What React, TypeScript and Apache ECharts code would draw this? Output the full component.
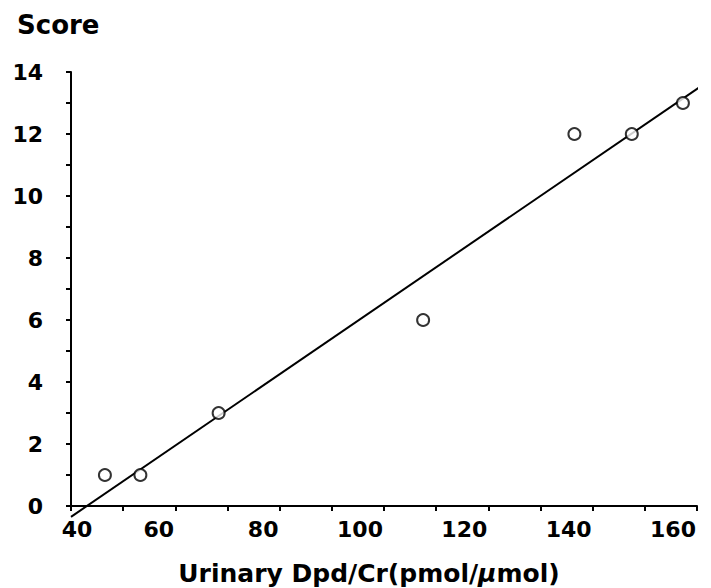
import React, { useEffect, useRef } from "react";
import * as echarts from "echarts";

const dpdValues = [46.5, 53.3, 68.3, 107.5, 136.5, 147.5, 157.3];
const scoreValues = [1, 1, 3, 6, 12, 12, 13];
const fitLineX = [40, 160.4];
const fitLineY = [-0.35, 13.5];
const xTickLabels = [40, 60, 80, 100, 120, 140, 160];
const yTickLabels = [0, 2, 4, 6, 8, 10, 12, 14];

const FONT = "DejaVu Sans";

export default function App() {
  const ref = useRef<HTMLDivElement>(null);
  useEffect(() => {
    if (!ref.current) return;
    const chart = echarts.init(ref.current, null, { renderer: "svg" });
    chart.setOption({
      animation: false,
      backgroundColor: "#ffffff",
      title: {
        text: "Score",
        left: 12,
        top: 7,
        textStyle: { fontFamily: FONT, fontWeight: "bold", fontSize: 26, color: "#000" },
      },
      grid: { left: 71, right: 14, top: 72, bottom: 82, outerBoundsMode: "none", containLabel: false },
      xAxis: {
        type: "value",
        min: 40,
        max: 160,
        interval: 10,
        splitLine: { show: false },
        axisLine: { onZero: false, lineStyle: { color: "#000", width: 2 } },
        axisTick: { show: true, length: 5, lineStyle: { color: "#000", width: 2 } },
        axisLabel: {
          margin: 12,
          color: "#000",
          fontFamily: FONT,
          fontWeight: "bold",
          fontSize: 22,
          formatter: (v: number) => {
            if (!xTickLabels.includes(v)) return "";
            if (v === 40) return "{l|" + v + "}";
            return (v >= 100 ? "{r3|" : "{r2|") + v + "}";
          },
          rich: {
            l: { fontFamily: FONT, fontWeight: "bold", fontSize: 22, color: "#000", padding: [0, 0, 0, 12] },
            r2: { fontFamily: FONT, fontWeight: "bold", fontSize: 22, color: "#000", padding: [0, 33, 0, 0] },
            r3: { fontFamily: FONT, fontWeight: "bold", fontSize: 22, color: "#000", padding: [0, 48, 0, 0] },
          },
        },
        name: "Urinary Dpd/Cr(pmol/{i|μ}mol)",
        nameLocation: "middle",
        nameGap: 55,
        nameTextStyle: {
          color: "#000",
          fontFamily: FONT,
          fontWeight: "bold",
          fontSize: 25,
          padding: [0, 30, 0, 0],
          rich: {
            i: { fontFamily: FONT, fontWeight: "bold", fontStyle: "italic", fontSize: 25, color: "#000" },
          },
        },
      },
      yAxis: {
        type: "value",
        min: 0,
        max: 14,
        interval: 1,
        splitLine: { show: false },
        axisLine: { onZero: false, lineStyle: { color: "#000", width: 2 } },
        axisTick: { show: true, length: 5, lineStyle: { color: "#000", width: 2 } },
        axisLabel: {
          margin: 28,
          color: "#000",
          fontFamily: FONT,
          fontWeight: "bold",
          fontSize: 22,
          padding: [6, 0, 0, 0],
          formatter: (v: number) => (yTickLabels.includes(v) ? String(v) : ""),
        },
      },
      series: [
        {
          type: "line",
          data: fitLineX.map((x, i) => [x, fitLineY[i]]),
          showSymbol: false,
          clip: false,
          lineStyle: { color: "#000", width: 2 },
          z: 2,
        },
        {
          type: "scatter",
          data: dpdValues.map((x, i) => [x, scoreValues[i]]),
          symbol: "circle",
          symbolSize: 12,
          itemStyle: { color: "#fff", borderColor: "#000", borderWidth: 2 },
          z: 3,
        },
      ],
    });
    return () => chart.dispose();
  }, []);
  return (
    <div
      ref={ref}
      style={{ position: "absolute", left: 0, top: 0, width: 711, height: 588 }}
    />
  );
}
